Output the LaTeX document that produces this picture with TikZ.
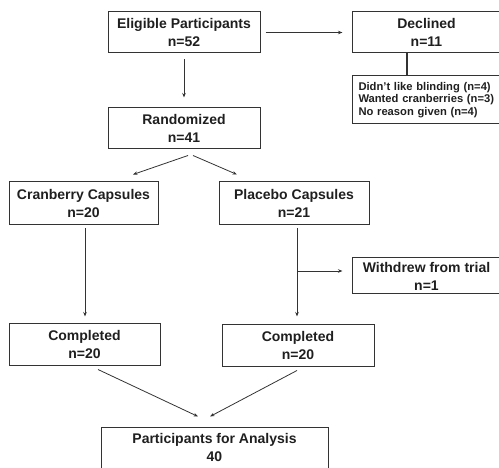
\documentclass[tikz,border=0pt]{standalone}
\usepackage{fontspec}
\setmainfont{Liberation Sans}
\usetikzlibrary{arrows.meta}
\begin{document}
\begin{tikzpicture}[x=1pt,y=1pt,
  box/.style={draw=black!80, line width=1pt, rectangle, align=center, inner sep=0pt,
    font=\fontsize{14}{18}\selectfont\bfseries, text=black!88},
  small/.style={font=\fontsize{11.2}{12.5}\selectfont\bfseries, text=black!88},
  arr/.style={draw=black!80, line width=0.8pt, -{Stealth[length=4.5pt,width=3.5pt]}},
  ln/.style={draw=black!80, line width=1.2pt}]
\useasboundingbox (0,0) rectangle (499,467);
% boxes
\node[box, minimum width=152, minimum height=41] (elig) at (184,434.5) {Eligible Participants\\n=52};
\node[box, minimum width=149, minimum height=41] (decl) at (426.5,434.5) {Declined\\n=11};
\node[box, small, align=left, text width=150, inner xsep=6pt, minimum height=48, anchor=west] (reas) at (352,367)
  {Didn't like blinding (n=4)\\Wanted cranberries (n=3)\\No reason given (n=4)};
\node[box, minimum width=152, minimum height=41] (rand) at (184,338.5) {Randomized\\n=41};
\node[box, minimum width=149, minimum height=43] (cran) at (83.5,263.5) {Cranberry Capsules\\n=20};
\node[box, minimum width=150, minimum height=43] (plac) at (294,263.5) {Placebo Capsules\\n=21};
\node[box, minimum width=149, minimum height=36] (withd) at (426.5,191) {Withdrew from trial\\n=1};
\node[box, minimum width=151, minimum height=42] (comp1) at (84.5,123) {Completed\\n=20};
\node[box, minimum width=152, minimum height=42] (comp2) at (298,122) {Completed\\n=20};
\node[box, minimum width=227, minimum height=52] (anal) at (214.5,14) {};
\node[box, draw=none] (analt) at (214.5,20) {Participants for Analysis\\40};
% connectors
\draw[arr] ([xshift=5pt]elig.east) -- ([xshift=-9pt]decl.west);
\draw[ln] ([xshift=-19.5pt]decl.south) -- (reas.north -| 407,0);
\draw[arr] ([yshift=-6pt]elig.south) -- ([yshift=10pt]rand.north);
\draw[arr] ([shift={(4pt,-6pt)}]rand.south) -- ([shift={(49.5pt,7pt)}]cran.north);
\draw[arr] ([shift={(9pt,-6pt)}]rand.south) -- ([shift={(-57pt,7pt)}]plac.north);
\draw[arr] ([shift={(1.5pt,-3pt)}]cran.south) -- ([shift={(0.5pt,6pt)}]comp1.north);
\draw[arr] ([shift={(3pt,-3pt)}]plac.south) -- ([shift={(-1pt,7pt)}]comp2.north);
\coordinate (br) at (297,196);
\draw[arr] (br) -- ([xshift=-9pt]br -| withd.west);
\draw[arr] ([shift={(13.5pt,-4pt)}]comp1.south) -- ([shift={(-16.5pt,10pt)}]anal.north);
\draw[arr] ([shift={(-1pt,-4pt)}]comp2.south) -- ([shift={(-4.5pt,10pt)}]anal.north);
\end{tikzpicture}
\end{document}
